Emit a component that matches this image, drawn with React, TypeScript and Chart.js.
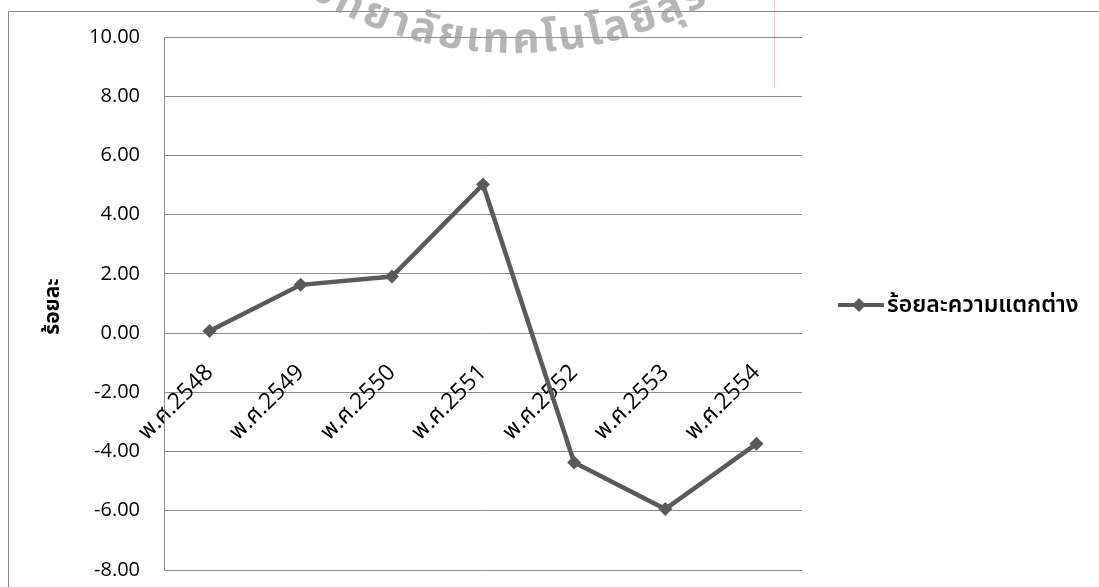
import React, { useEffect, useRef } from "react";
import { Chart, registerables } from "chart.js";

Chart.register(...registerables);

const categories = ["พ.ศ.2548", "พ.ศ.2549", "พ.ศ.2550", "พ.ศ.2551", "พ.ศ.2552", "พ.ศ.2553", "พ.ศ.2554"];
const seriesName = "ร้อยละความแตกต่าง";
const values = [0.07, 1.63, 1.91, 5.02, -4.37, -5.94, -3.74];
const yMin = -8;
const yMax = 10;
const yStep = 2;
const yTitle = "ร้อยละ";
const watermarkText = "มหาวิทยาลัยเทคโนโลยีสุรนารี";

const FONT = "'Open Sans', 'Noto Sans Thai', 'Noto Sans', 'DejaVu Sans', sans-serif";
const LINE_COLOR = "#5a5a5a";
const GRID_COLOR = "#8c8c8c";

function graphemes(s: string): string[] {
  try {
    const Seg = (Intl as any).Segmenter;
    return Array.from(new Seg("th", { granularity: "grapheme" }).segment(s), (x: any) => x.segment);
  } catch (e) {
    return Array.from(s);
  }
}

const decorPlugin = {
  id: "decor",
  beforeDraw(chart: any) {
    const ctx = chart.ctx;
    ctx.save();
    ctx.strokeStyle = "#8a8a8a";
    ctx.lineWidth = 1;
    ctx.beginPath();
    ctx.moveTo(8.5, 587);
    ctx.lineTo(8.5, 11.5);
    ctx.lineTo(1099, 11.5);
    ctx.stroke();
    ctx.strokeStyle = "rgba(240,150,150,0.5)";
    ctx.beginPath();
    ctx.moveTo(774.5, 0);
    ctx.lineTo(774.5, 88);
    ctx.stroke();
    ctx.restore();
  },
  afterDraw(chart: any) {
    const ctx = chart.ctx;
    const area = chart.chartArea;
    ctx.save();
    ctx.translate(53, (area.top + area.bottom) / 2 + 3);
    ctx.rotate(-Math.PI / 2);
    ctx.fillStyle = "#000";
    ctx.font = "bold 21px " + FONT;
    ctx.textAlign = "center";
    ctx.textBaseline = "middle";
    ctx.fillText(yTitle, 0, 0);
    ctx.restore();

    // legend
    ctx.save();
    const ly = 305;
    ctx.strokeStyle = LINE_COLOR;
    ctx.lineWidth = 4;
    ctx.beginPath();
    ctx.moveTo(838, ly);
    ctx.lineTo(884, ly);
    ctx.stroke();
    ctx.fillStyle = LINE_COLOR;
    ctx.beginPath();
    ctx.moveTo(859 - 7, ly);
    ctx.lineTo(859, ly - 7);
    ctx.lineTo(859 + 7, ly);
    ctx.lineTo(859, ly + 7);
    ctx.closePath();
    ctx.fill();
    ctx.fillStyle = "#000";
    ctx.font = "600 23px " + FONT;
    ctx.textAlign = "left";
    ctx.textBaseline = "middle";
    ctx.fillText(seriesName, 887, ly);
    ctx.restore();

    // watermark along an arc
    ctx.save();
    ctx.font = "bold 42px " + FONT;
    ctx.fillStyle = "rgba(150,150,150,0.7)";
    ctx.textAlign = "center";
    ctx.textBaseline = "alphabetic";
    const cl = graphemes(watermarkText);
    const widths = cl.map((c) => ctx.measureText(c).width);
    const cum: number[] = [];
    let acc = 0;
    widths.forEach((w) => { cum.push(acc); acc += w; });
    const cx = 515, cy = -347, R = 400;
    const iA = 3, iB = 17;
    const thA = -0.509, thB = 0.41;
    const mA = cum[iA] + widths[iA] / 2;
    const mB = cum[iB] + widths[iB] / 2;
    const k = ((thB - thA) * R) / (mB - mA);
    cl.forEach((c, i) => {
      const m = cum[i] + widths[i] / 2;
      const th = thA + ((m - mA) * k) / R;
      const px = cx + R * Math.sin(th);
      const py = cy + R * Math.cos(th);
      ctx.save();
      ctx.translate(px, py);
      ctx.rotate(-th);
      ctx.fillText(c, 0, 0);
      ctx.restore();
    });
    ctx.restore();
  },
};

export default function App() {
  const ref = useRef<HTMLCanvasElement | null>(null);
  useEffect(() => {
    if (!ref.current) return;
    const chart = new Chart(ref.current, {
      type: "line",
      data: {
        labels: categories,
        datasets: [
          {
            label: seriesName,
            data: values,
            borderColor: LINE_COLOR,
            backgroundColor: LINE_COLOR,
            borderWidth: 4.5,
            pointStyle: "rectRot",
            pointRadius: 7,
            pointBorderWidth: 0,
            pointBackgroundColor: LINE_COLOR,
            tension: 0,
            fill: false,
          },
        ],
      },
      options: {
        animation: false,
        responsive: false,
        maintainAspectRatio: false,
        layout: { padding: { left: 20, right: 297, top: 37, bottom: 17 } },
        plugins: { legend: { display: false }, tooltip: { enabled: false } },
        scales: {
          x: {
            type: "category",
            position: { y: 0 } as any,
            offset: true,
            grid: { display: false, drawTicks: false },
            border: { display: false },
            ticks: {
              autoSkip: false,
              minRotation: 45,
              maxRotation: 45,
              color: "#000",
              padding: 26,
              font: { family: FONT, size: 23 },
            },
            afterFit: (s: any) => { s.height = 0; },
          },
          y: {
            min: yMin,
            max: yMax,
            grid: { color: GRID_COLOR, drawTicks: false, lineWidth: 1 },
            border: { color: GRID_COLOR },
            ticks: {
              stepSize: yStep,
              color: "#000",
              padding: 24,
              font: { family: FONT, size: 20 },
              callback: (v: any) => Number(v).toFixed(2),
            },
            afterFit: (s: any) => {
              s.width = 144;
              s.paddingTop = 12;
              s.paddingBottom = 12;
            },
          },
        },
      },
      plugins: [decorPlugin],
    });
    return () => chart.destroy();
  }, []);
  return (
    <div style={{ position: "absolute", left: 0, top: 0, width: 1099, height: 587, background: "#fff" }}>
      <canvas ref={ref} width={1099} height={587} style={{ display: "block" }} />
    </div>
  );
}
